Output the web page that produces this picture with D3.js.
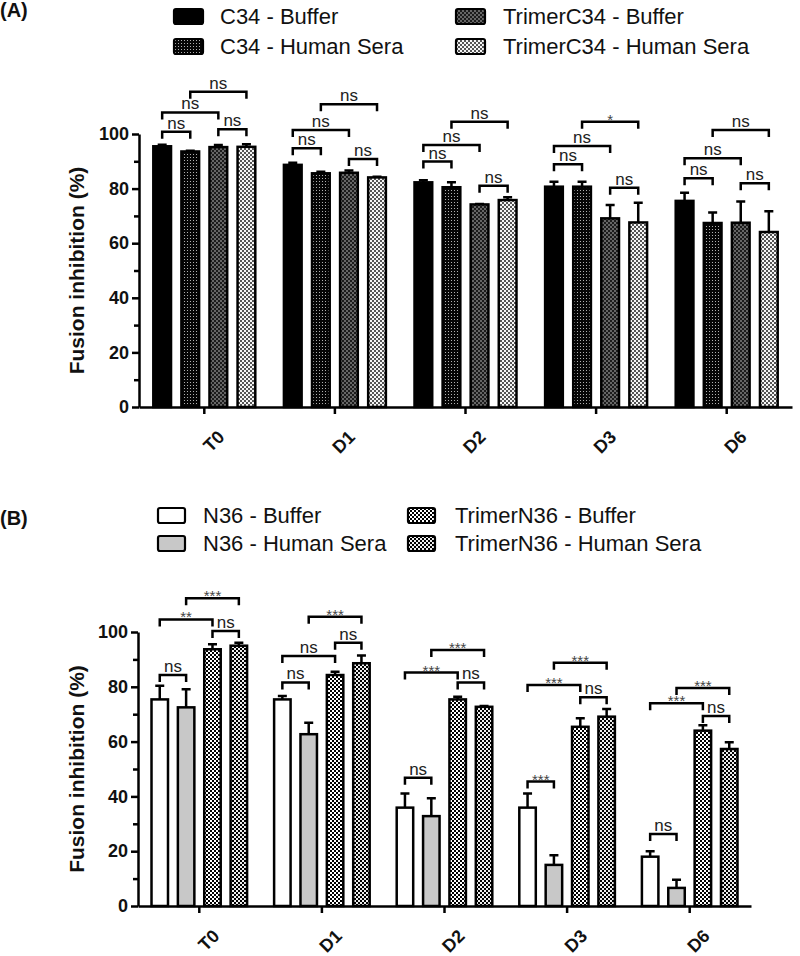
<!DOCTYPE html>
<html><head><meta charset="utf-8">
<script src="https://cdn.jsdelivr.net/npm/d3@7"></script>
<style>
body{margin:0;background:#fff}
text{font-family:"Liberation Sans",Arial,Helvetica,sans-serif}
</style>
</head><body>
<svg id="c" width="800" height="956"></svg>
<script>
// ---------- DATA ----------
const categories = ["T0", "D1", "D2", "D3", "D6"];
const yTickValues = [0, 20, 40, 60, 80, 100];
const yMinorTicks = [10, 30, 50, 70, 90];
const yTitle = "Fusion inhibition (%)";

const seriesA = ["C34 - Buffer", "C34 - Human Sera", "TrimerC34 - Buffer", "TrimerC34 - Human Sera"];
const valuesA = [
  [95.5, 88.7, 82.3, 80.7, 75.5],
  [93.6, 85.6, 80.5, 80.7, 67.4],
  [95.2, 85.8, 74.2, 69.1, 67.5],
  [95.3, 84.1, 75.8, 67.6, 64.1]
];
const errorsA = [
  [0.6, 0.8, 0.8, 1.8, 3.0],
  [0.3, 0.6, 1.8, 1.8, 3.8],
  [0.8, 0.8, 0.2, 4.9, 7.8],
  [0.9, 0.2, 1.0, 7.2, 7.6]
];
// [category, barA, barB, bracket level (% units), label]
const bracketsA = [
  ["T0", 0, 1, 100.8, "ns"], ["T0", 2, 3, 101.7, "ns"], ["T0", 0, 2, 107.9, "ns"], ["T0", 1, 3, 115.5, "ns"],
  ["D1", 0, 1, 94.8, "ns"], ["D1", 2, 3, 90.8, "ns"], ["D1", 0, 2, 101.5, "ns"], ["D1", 1, 3, 110.9, "ns"],
  ["D2", 0, 1, 89.9, "ns"], ["D2", 2, 3, 81.0, "ns"], ["D2", 0, 2, 96.0, "ns"], ["D2", 1, 3, 104.5, "ns"],
  ["D3", 0, 1, 88.9, "ns"], ["D3", 2, 3, 80.3, "ns"], ["D3", 0, 2, 95.6, "ns"], ["D3", 1, 3, 104.5, "*"],
  ["D6", 0, 1, 83.8, "ns"], ["D6", 2, 3, 82.0, "ns"], ["D6", 0, 2, 91.1, "ns"], ["D6", 1, 3, 101.5, "ns"]
];

const seriesB = ["N36 - Buffer", "N36 - Human Sera", "TrimerN36 - Buffer", "TrimerN36 - Human Sera"];
const valuesB = [
  [75.4, 75.4, 35.9, 35.9, 18.0],
  [72.5, 62.7, 32.8, 15.0, 6.6],
  [93.7, 84.3, 75.4, 65.4, 64.0],
  [95.0, 88.6, 72.7, 69.1, 57.3]
];
const errorsB = [
  [5.0, 1.2, 5.2, 5.2, 2.0],
  [6.6, 4.2, 6.5, 3.5, 3.0],
  [1.8, 1.2, 1.0, 3.1, 2.0],
  [1.1, 2.8, 0.3, 2.8, 2.5]
];
const bracketsB = [
  ["T0", 0, 1, 84.3, "ns"], ["T0", 2, 3, 100.4, "ns"], ["T0", 0, 2, 104.6, "**"], ["T0", 1, 3, 112.3, "***"],
  ["D1", 0, 1, 81.6, "ns"], ["D1", 2, 3, 96.1, "ns"], ["D1", 0, 2, 91.2, "ns"], ["D1", 1, 3, 105.6, "***"],
  ["D2", 0, 1, 46.8, "ns"], ["D2", 2, 3, 81.6, "ns"], ["D2", 0, 2, 85.2, "***"], ["D2", 1, 3, 93.4, "***"],
  ["D3", 0, 1, 45.4, "***"], ["D3", 2, 3, 76.2, "ns"], ["D3", 0, 2, 80.7, "***"], ["D3", 1, 3, 88.8, "***"],
  ["D6", 0, 1, 26.3, "ns"], ["D6", 2, 3, 69.3, "ns"], ["D6", 0, 2, 74.0, "***"], ["D6", 1, 3, 79.6, "***"]
];

// ---------- DRAWING ----------
const svg = d3.select("#c");
const defs = svg.append("defs");

function checker(id, bg, fg, s) {
  const p = defs.append("pattern").attr("id", id).attr("patternUnits", "userSpaceOnUse")
    .attr("width", s * 2).attr("height", s * 2);
  p.append("rect").attr("width", s * 2).attr("height", s * 2).attr("fill", bg);
  p.append("rect").attr("width", s).attr("height", s).attr("fill", fg);
  p.append("rect").attr("x", s).attr("y", s).attr("width", s).attr("height", s).attr("fill", fg);
}
function dots(id, bg, fg, tile, d) {
  const p = defs.append("pattern").attr("id", id).attr("patternUnits", "userSpaceOnUse")
    .attr("width", tile).attr("height", tile);
  p.append("rect").attr("width", tile).attr("height", tile).attr("fill", bg);
  p.append("rect").attr("x", 1).attr("y", 1).attr("width", d).attr("height", d).attr("fill", fg);
}
dots("pA1", "#050505", "#b0b0b0", 3, 1);
checker("pA2", "#1c1c1c", "#666666", 2);
checker("pA3", "#f6f6f6", "#555555", 2);
checker("pB2", "#ffffff", "#000000", 2);
checker("pB3", "#eeeeee", "#000000", 2);

const fillsA = ["#000000", "url(#pA1)", "url(#pA2)", "url(#pA3)"];
const fillsB = ["#ffffff", "#c8c8c8", "url(#pB2)", "url(#pB3)"];

const SW = 2.5;

function panel(cfg) {
  const g = svg.append("g");
  const x0 = d3.scaleBand().domain(categories).range([cfg.xl, cfg.xr]).paddingInner(0.2).paddingOuter(0.1);
  const x1 = d3.scaleBand().domain(d3.range(cfg.series.length)).range([0, x0.bandwidth()]).paddingInner(0.28);
  const y = d3.scaleLinear().domain([0, 100]).range([cfg.yb, cfg.yt]);
  const bw = x1.bandwidth();

  const flat = [];
  cfg.series.forEach((s, i) => categories.forEach((c, j) => {
    flat.push({ s: i, c, v: cfg.values[i][j], e: cfg.errors[i][j] });
  }));

  // error bars (behind bars)
  const eg = g.append("g").attr("stroke", "#000").attr("stroke-width", SW).attr("fill", "none");
  eg.selectAll("path").data(flat).join("path")
    .attr("d", d => {
      const cx = x0(d.c) + x1(d.s) + bw / 2;
      const yt = y(d.v + d.e);
      return `M${cx},${y(d.v)}V${yt}M${cx - 4.5},${yt}H${cx + 4.5}`;
    });

  // bars
  g.append("g").selectAll("rect").data(flat).join("rect")
    .attr("x", d => x0(d.c) + x1(d.s) + SW / 2)
    .attr("width", bw - SW)
    .attr("y", d => y(d.v))
    .attr("height", d => y(0) - y(d.v))
    .attr("fill", d => cfg.fills[d.s])
    .attr("stroke", "#000").attr("stroke-width", SW);

  // brackets
  const bg = g.append("g");
  cfg.brackets.forEach(([c, a, b, lvl, lab]) => {
    const xa = x0(c) + x1(a) + bw / 2;
    const xb = x0(c) + x1(b) + bw / 2;
    const yl = y(lvl);
    bg.append("path").attr("d", `M${xa},${yl + 7}V${yl}H${xb}V${yl + 7}`)
      .attr("fill", "none").attr("stroke", "#000").attr("stroke-width", SW);
    const isStar = lab.indexOf("*") >= 0;
    bg.append("text").attr("x", (xa + xb) / 2)
      .attr("y", isStar ? yl + 3 : yl - 3)
      .attr("text-anchor", "middle")
      .attr("font-size", isStar ? 15 : 17)
      .attr("fill", isStar ? "#444" : "#222")
      .text(lab);
  });

  // y axis
  g.append("g").attr("transform", `translate(${cfg.xl},0)`)
    .call(d3.axisLeft(y).tickValues(yTickValues).tickSize(7).tickSizeOuter(0).tickPadding(3));
  g.append("g").attr("transform", `translate(${cfg.xl},0)`)
    .call(d3.axisLeft(y).tickValues(yMinorTicks).tickSize(5).tickSizeOuter(0).tickFormat(""))
    .call(s => s.select(".domain").remove());
  // x axis
  const xa = g.append("g").attr("transform", `translate(0,${cfg.yb})`)
    .call(d3.axisBottom(x0).tickSize(7).tickSizeOuter(0).tickPadding(4));
  xa.selectAll(".tick text")
    .attr("text-anchor", "end")
    .attr("transform", "translate(9,19) rotate(-45)")
    .attr("dy", "0.35em");
  g.selectAll(".domain, .tick line").attr("stroke", "#000").attr("stroke-width", SW);
  g.selectAll(".tick text").attr("font-size", 18).attr("font-weight", "bold")
    .attr("font-family", '"Liberation Sans",Arial,sans-serif').attr("fill", "#111");

  // y title
  g.append("text")
    .attr("transform", `translate(${cfg.titleX},${(cfg.yb + cfg.yt) / 2}) rotate(-90)`)
    .attr("text-anchor", "middle").attr("dy", "0.35em")
    .attr("font-size", 21).attr("font-weight", "bold").attr("fill", "#111")
    .text(yTitle);

  // panel label
  g.append("text").attr("x", 0).attr("y", cfg.labelY)
    .attr("font-size", 20).attr("font-weight", "bold").attr("fill", "#111").text(cfg.label);

  // legend
  const lg = g.append("g");
  cfg.series.forEach((s, i) => {
    const col = Math.floor(i / 2), row = i % 2;
    const sx = cfg.legSwX[col], sy = cfg.legY[row];
    lg.append("rect").attr("x", sx + 1).attr("y", sy + 1)
      .attr("width", cfg.legSwW - 2).attr("height", 15).attr("rx", 2)
      .attr("fill", cfg.fills[i]).attr("stroke", "#000").attr("stroke-width", 2.2);
    lg.append("text").attr("x", cfg.legTxX[col]).attr("y", sy + 16)
      .attr("font-size", 22).attr("fill", "#111").text(s);
  });
}

panel({
  series: seriesA, values: valuesA, errors: errorsA, brackets: bracketsA, fills: fillsA,
  xl: 139, xr: 792, yb: 407, yt: 134, titleX: 77, label: "(A)", labelY: 17,
  legSwX: [173, 455], legTxX: [220, 503], legY: [8, 38], legSwW: 31
});
panel({
  series: seriesB, values: valuesB, errors: errorsB, brackets: bracketsB, fills: fillsB,
  xl: 138, xr: 751, yb: 906, yt: 632, titleX: 77, label: "(B)", labelY: 525,
  legSwX: [157, 407], legTxX: [203, 455], legY: [507, 535], legSwW: 29
});
</script>
</body></html>
